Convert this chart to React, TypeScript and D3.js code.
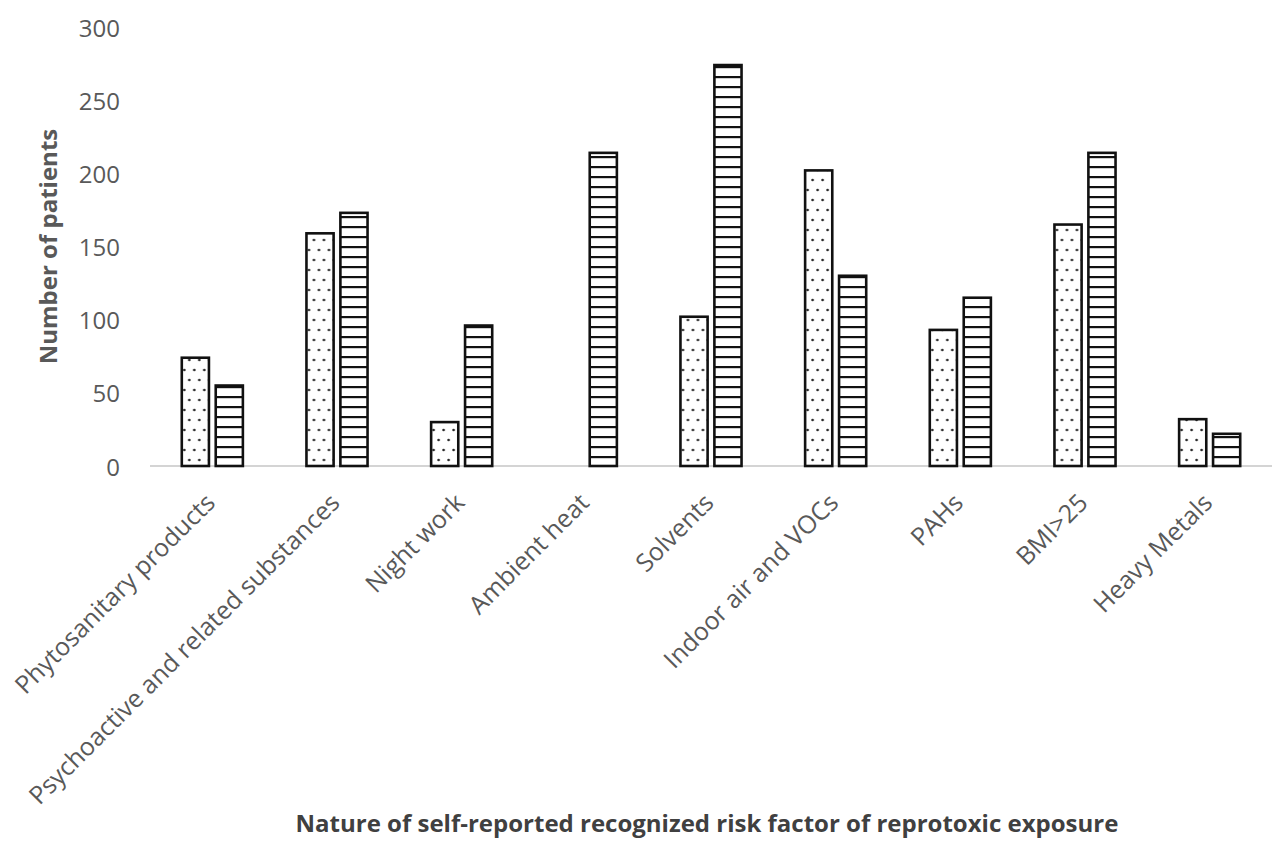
import React from "react";
import * as d3 from "d3";

const categories = [
  "Phytosanitary products",
  "Psychoactive and related substances",
  "Night work",
  "Ambient heat",
  "Solvents",
  "Indoor air and VOCs",
  "PAHs",
  "BMI>25",
  "Heavy Metals",
];
const seriesNames = ["dotted", "striped"];
const dottedValues = [74, 159, 30, 0, 102, 202, 93, 165, 32];
const stripedValues = [55, 173, 96, 214, 274, 130, 115, 214, 22];
const yTicks = [0, 50, 100, 150, 200, 250, 300];
const yTitle = "Number of patients";
const xTitle = "Nature of self-reported recognized risk factor of reprotoxic exposure";

const W = 1280;
const H = 864;
const left = 150;
const right = 1272;
const top = 27;
const bottom = 466;
const font = "'Open Sans', 'Liberation Sans', sans-serif";

export default function App() {
  const x0 = d3
    .scaleBand<string>()
    .domain(categories)
    .range([left, right])
    .paddingInner(0.51)
    .paddingOuter(0.255);
  const x1 = d3
    .scaleBand<string>()
    .domain(seriesNames)
    .range([0, x0.bandwidth()])
    .paddingInner(0.2);
  const y = d3.scaleLinear().domain([0, 300]).range([bottom, top]);

  const data = categories.map((c, i) => ({
    c,
    vals: [
      { s: "dotted", v: dottedValues[i] },
      { s: "striped", v: stripedValues[i] },
    ],
  }));

  return (
    <svg
      width={W}
      height={H}
      style={{ position: "absolute", left: 0, top: 0, background: "#fff" }}
    >
      <defs>
        <pattern
          id="dots"
          patternUnits="userSpaceOnUse"
          width={10}
          height={20}
          x={0}
          y={bottom}
        >
          <rect width={10} height={20} fill="#fff" />
          <circle cx={2.5} cy={4} r={1.3} fill="#222" />
          <circle cx={7.5} cy={14} r={1.3} fill="#222" />
        </pattern>
        <pattern
          id="stripes"
          patternUnits="userSpaceOnUse"
          width={10}
          height={10}
          x={0}
          y={bottom}
        >
          <rect width={10} height={10} fill="#fff" />
          <rect y={0} width={10} height={2.2} fill="#111" />
        </pattern>
      </defs>

      {/* axis line */}
      <line x1={left} x2={right} y1={y(0)} y2={y(0)} stroke="#d4d4d4" strokeWidth={2} />

      {/* y ticks */}
      {yTicks.map((t) => (
        <text
          key={t}
          x={120}
          y={y(t)}
          textAnchor="end"
          dominantBaseline="central"
          fontFamily={font}
          fontSize={24}
          fill="#595959"
        >
          {t}
        </text>
      ))}

      {/* y title */}
      <text
        transform={`translate(47, ${(y(0) + y(300)) / 2}) rotate(-90)`}
        textAnchor="middle"
        dominantBaseline="central"
        fontFamily={font}
        fontWeight={700}
        fontSize={24}
        fill="#595959"
      >
        {yTitle}
      </text>

      {/* bars */}
      {data.map((d) => (
        <g key={d.c} transform={`translate(${x0(d.c)},0)`}>
          {d.vals
            .filter((b) => b.v > 0)
            .map((b) => (
              <rect
                key={b.s}
                x={x1(b.s)}
                y={y(b.v)}
                width={x1.bandwidth()}
                height={y(0) - y(b.v)}
                fill={b.s === "dotted" ? "url(#dots)" : "url(#stripes)"}
                stroke="#111"
                strokeWidth={2.6}
              />
            ))}
        </g>
      ))}

      {/* x labels */}
      {categories.map((c) => (
        <text
          key={c}
          transform={`translate(${(x0(c) as number) + x0.bandwidth() / 2 - 11}, 489) rotate(-45)`}
          textAnchor="end"
          dominantBaseline="hanging"
          fontFamily={font}
          fontSize={25}
          fill="#595959"
        >
          {c}
        </text>
      ))}

      {/* x title */}
      <text
        x={707}
        y={822}
        textAnchor="middle"
        dominantBaseline="central"
        fontFamily={font}
        fontWeight={700}
        fontSize={24}
        fill="#404040"
      >
        {xTitle}
      </text>
    </svg>
  );
}
